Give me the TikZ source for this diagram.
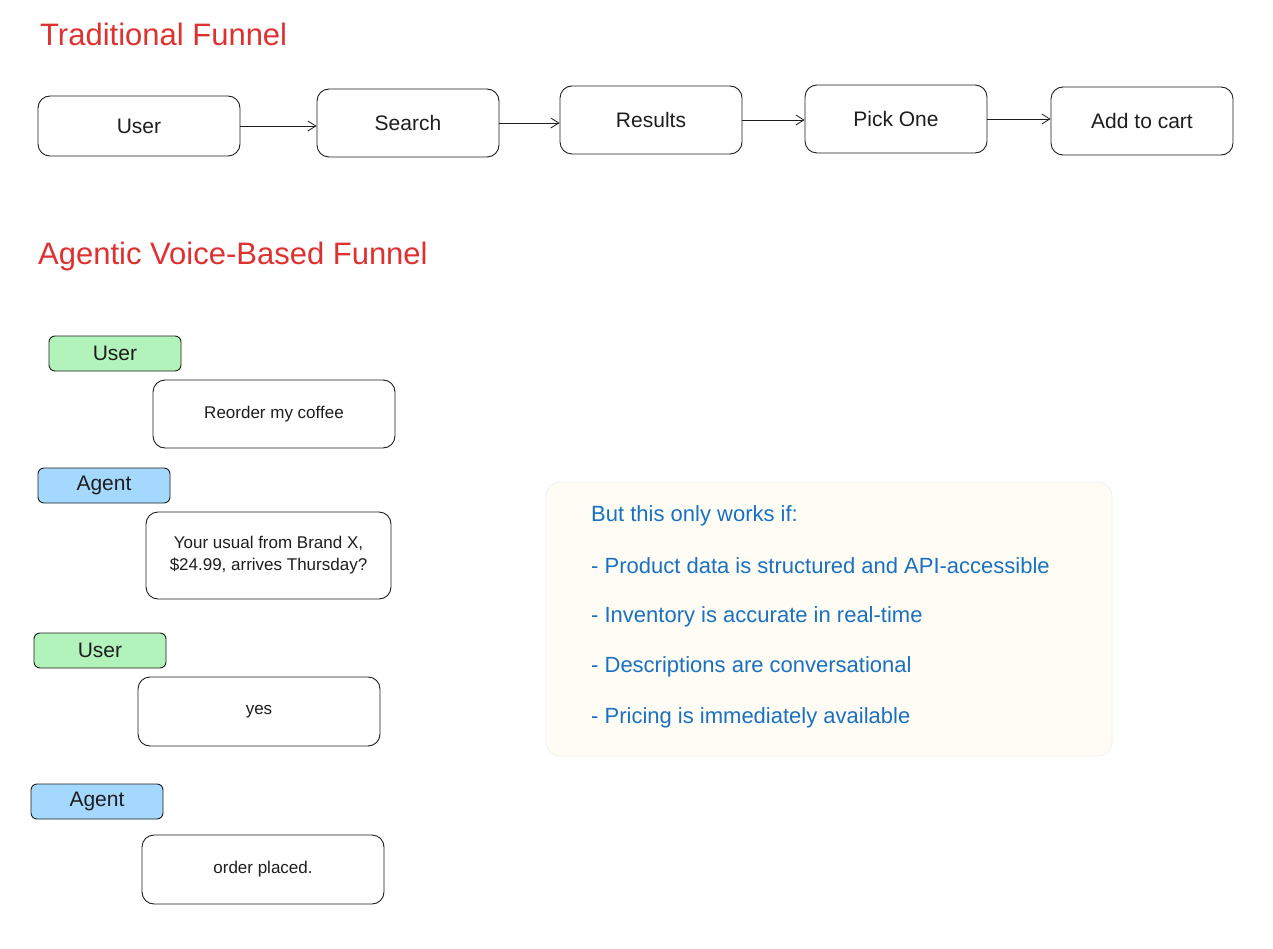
\documentclass[tikz,border=0pt]{standalone}
\usepackage{fontspec}
\setmainfont{Liberation Sans}
\usetikzlibrary{arrows.meta}
\definecolor{ink}{HTML}{1E1E1E}
\definecolor{titlered}{HTML}{E03131}
\definecolor{notblue}{HTML}{1971C2}
\definecolor{usergreen}{HTML}{B2F2BB}
\definecolor{agentblue}{HTML}{A5D8FF}
\definecolor{notefill}{HTML}{FFFCF5}
\definecolor{noteline}{HTML}{EEF1F4}
\tikzset{
  flowbox/.style={draw=ink, line width=0.9pt, rounded corners=12pt, minimum width=182pt, minimum height=68pt, font=\fontsize{21}{25}\selectfont, text=ink, inner sep=0pt},
  chatbox/.style={draw=ink, line width=0.9pt, rounded corners=12pt, minimum width=242pt, minimum height=68pt, font=\fontsize{17}{22}\selectfont, text=ink, align=center, inner sep=0pt},
  rolebox/.style={draw=ink, line width=0.9pt, rounded corners=6pt, minimum width=132pt, minimum height=35pt, font=\fontsize{21}{24}\selectfont, text=ink, inner sep=0pt},
  usertag/.style={rolebox, fill=usergreen},
  agenttag/.style={rolebox, fill=agentblue},
  heading/.style={anchor=west, text=titlered, font=\fontsize{31}{34}\selectfont, inner sep=0pt},
  notetext/.style={anchor=west, text=notblue, font=\fontsize{22}{26}\selectfont, inner sep=0pt},
  flowarrow/.style={draw=ink, line width=0.8pt, -{Straight Barb[length=8pt, width=10pt]}}
}
\begin{document}
\begin{tikzpicture}[x=1pt, y=-1pt]
\useasboundingbox (0,0) rectangle (1273,949);
\fill[white] (0,0) rectangle (1273,949);

\node[heading] (t1) at (40,34) {Traditional Funnel};

\node[flowbox, minimum width=202pt, minimum height=60pt] (fu) at (139,126) {User};
\node[flowbox] (fs) at (408,123) {Search};
\node[flowbox] (fr) at (651,120) {Results};
\node[flowbox] (fp) at (896,119) {Pick One};
\node[flowbox] (fa) at (1142,121) {Add to cart};

\draw[flowarrow] (fu.east) -- (fu.east -| fs.west);
\draw[flowarrow] (fs.east) -- (fs.east -| fr.west);
\draw[flowarrow] (fr.east) -- (fr.east -| fp.west);
\draw[flowarrow] (fp.east) -- (fp.east -| fa.west);

\node[heading] (t2) at (38,256) {Agentic Voice-Based Funnel};

\node[usertag] (u1) at (115,353.5) {User};
\node[chatbox] (c1) at (274,414) {Reorder my coffee};
\node[agenttag] (a1) at (104,485.5) {Agent};
\node[chatbox, minimum width=245pt, minimum height=87pt] (c2) at (268.5,555.5) {Your usual from Brand X,\\ \$24.99, arrives Thursday?};
\node[usertag] (u2) at (100,650.5) {User};
\node[chatbox, minimum height=69pt] (c3) at (259,711.5) {yes};
\node[agenttag] (a2) at (97,801.5) {Agent};
\node[chatbox, minimum height=69pt] (c4) at (263,869.5) {order placed.};

\node[draw=noteline, fill=notefill, line width=0.8pt, rounded corners=14pt, minimum width=566pt, minimum height=274pt, inner sep=0pt] (note) at (829,619) {};
\node[notetext] (n0) at (591,516) {But this only works if:};
\node[notetext] (n1) at (591,566) {- Product data is structured and API-accessible};
\node[notetext] (n2) at (591,617) {- Inventory is accurate in real-time};
\node[notetext] (n3) at (591,667) {- Descriptions are conversational};
\node[notetext] (n4) at (591,718) {- Pricing is immediately available};
\end{tikzpicture}
\end{document}
